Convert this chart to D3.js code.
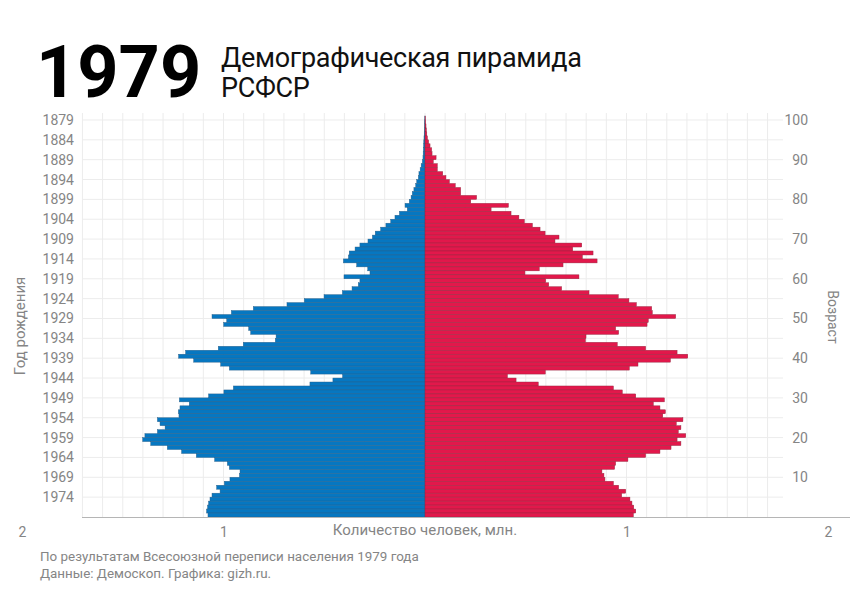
<!DOCTYPE html>
<html>
<head>
<meta charset="utf-8">
<script src="https://cdn.jsdelivr.net/npm/d3@7/dist/d3.min.js"></script>
<style>
  body { margin: 0; background: #fff; }
  svg text { font-family: Roboto, "Noto Sans", sans-serif; }
</style>
</head>
<body>
<svg id="chart" width="850" height="597"></svg>
<script>
// ages from 100 (top) down to 0 (bottom), census of 1979
const ages = d3.range(100, -1, -1);

// men, millions, same order as ages
const male = [
  0.001, 0.002, 0.002, 0.003, 0.004, 0.005, 0.006, 0.007, 0.008, 0.009,
  0.010, 0.013, 0.019, 0.024, 0.030, 0.033, 0.041, 0.046, 0.055, 0.063,
  0.069, 0.078, 0.099, 0.088, 0.127, 0.149, 0.170, 0.194, 0.220, 0.247,
  0.261, 0.283, 0.323, 0.347, 0.376, 0.380, 0.405, 0.339, 0.284, 0.273,
  0.402, 0.323, 0.331, 0.362, 0.410, 0.501, 0.599, 0.685, 0.852, 0.961,
  1.057, 0.984, 0.999, 0.875, 0.865, 0.739, 0.743, 0.902, 1.026, 1.188,
  1.223, 1.148, 1.014, 0.971, 0.567, 0.409, 0.457, 0.571, 0.951, 0.998,
  1.074, 1.219, 1.170, 1.216, 1.224, 1.221, 1.328, 1.315, 1.290, 1.328,
  1.390, 1.401, 1.361, 1.279, 1.208, 1.135, 1.044, 0.981, 0.971, 0.918,
  0.921, 0.968, 0.996, 1.034, 1.017, 1.057, 1.067, 1.074, 1.079, 1.084,
  1.077
];

// women, millions
const female = [
  0.002, 0.003, 0.005, 0.007, 0.009, 0.012, 0.018, 0.025, 0.033, 0.035,
  0.055, 0.041, 0.061, 0.061, 0.088, 0.104, 0.121, 0.150, 0.177, 0.177,
  0.256, 0.227, 0.414, 0.328, 0.427, 0.466, 0.493, 0.533, 0.571, 0.596,
  0.665, 0.645, 0.778, 0.733, 0.834, 0.781, 0.854, 0.685, 0.567, 0.496,
  0.764, 0.599, 0.614, 0.678, 0.814, 0.959, 1.012, 1.049, 1.125, 1.128,
  1.244, 1.108, 1.102, 0.946, 0.961, 0.799, 0.796, 0.954, 1.095, 1.251,
  1.304, 1.218, 1.057, 1.014, 0.597, 0.409, 0.452, 0.562, 0.935, 0.979,
  1.046, 1.188, 1.133, 1.166, 1.193, 1.180, 1.280, 1.247, 1.270, 1.257,
  1.294, 1.251, 1.270, 1.221, 1.166, 1.095, 1.007, 0.946, 0.941, 0.878,
  0.888, 0.893, 0.935, 0.961, 0.996, 0.976, 1.017, 1.027, 1.036, 1.046,
  1.034
];

const yearTicks = [1879, 1884, 1889, 1894, 1899, 1904, 1909, 1914, 1919, 1924,
  1929, 1934, 1939, 1944, 1949, 1954, 1959, 1964, 1969, 1974];
const ageTicks = [100, 90, 80, 70, 60, 50, 40, 30, 20, 10];
const valueTicks = [-2, -1, 1, 2];
const censusYear = 1979;

const svg = d3.select("#chart");
const grey = "#858585";

const x = d3.scaleLinear().domain([-2, 2]).range([22, 828]);
const y = d3.scaleLinear().domain([101, 0]).range([116, 517]);

// grid
const grid = svg.append("g").attr("class", "grid");
grid.selectAll(".vline")
  .data(d3.range(-17, 18).map(d => d / 10))
  .enter()
  .append("line")
  .attr("x1", d => x(d)).attr("x2", d => x(d))
  .attr("y1", 113).attr("y2", y(0))
  .style("stroke", "#ececec")
  .style("stroke-width", 1);

grid.selectAll(".hline")
  .data(yearTicks)
  .enter()
  .append("line")
  .attr("x1", 83).attr("x2", 783)
  .attr("y1", d => y(censusYear - d)).attr("y2", d => y(censusYear - d))
  .style("stroke", "#ececec")
  .style("stroke-width", 1);

// bars
const rows = ages.map((a, i) => ({ age: a, m: male[i], f: female[i] }));
const bh = y(0) - y(1);

svg.append("g").selectAll("rect")
  .data(rows)
  .enter()
  .append("rect")
  .attr("x", d => x(-d.m))
  .attr("y", d => y(d.age + 1))
  .attr("width", d => x(0) - x(-d.m))
  .attr("height", bh)
  .style("fill", "#0677c1")
  .style("stroke", "#2b5f88")
  .style("stroke-width", 0.45);

svg.append("g").selectAll("rect")
  .data(rows)
  .enter()
  .append("rect")
  .attr("x", x(0))
  .attr("y", d => y(d.age + 1))
  .attr("width", d => x(d.f) - x(0))
  .attr("height", bh)
  .style("fill", "#e2184b")
  .style("stroke", "#93283f")
  .style("stroke-width", 0.45);

// bottom axis line
svg.append("line")
  .attr("x1", 82).attr("x2", 850)
  .attr("y1", y(0) + 0.5).attr("y2", y(0) + 0.5)
  .style("stroke", "#b5b5b5")
  .style("stroke-width", 1.2);

// left axis: years of birth
const left = svg.append("g")
  .attr("transform", "translate(74,0)")
  .call(d3.axisLeft(y)
    .tickValues(yearTicks.map(d => censusYear - d))
    .tickFormat(d => censusYear - d)
    .tickSize(0)
    .tickPadding(0));

// right axis: age
const right = svg.append("g")
  .attr("transform", "translate(808,0)")
  .call(d3.axisLeft(y)
    .tickValues(ageTicks)
    .tickSize(0)
    .tickPadding(0));

// bottom axis: millions
const bottom = svg.append("g")
  .attr("transform", "translate(0," + (y(0) + 7) + ")")
  .call(d3.axisBottom(x)
    .tickValues(valueTicks)
    .tickFormat(d => Math.abs(d))
    .tickSize(0));

[left, right, bottom].forEach(g => {
  g.select(".domain").remove();
  g.selectAll("text")
    .style("font-family", "Roboto, sans-serif")
    .style("font-size", "14px")
    .style("fill", grey);
});

svg.append("text")
  .attr("x", x(0)).attr("y", 535)
  .attr("text-anchor", "middle")
  .style("font-size", "15px")
  .style("fill", grey)
  .text("Количество человек, млн.");

svg.append("text")
  .attr("transform", "translate(25,326) rotate(-90)")
  .attr("text-anchor", "middle")
  .style("font-size", "15px")
  .style("fill", grey)
  .text("Год рождения");

svg.append("text")
  .attr("transform", "translate(828,317) rotate(90)")
  .attr("text-anchor", "middle")
  .style("font-size", "14px")
  .style("fill", grey)
  .text("Возраст");

// title
svg.append("text")
  .attr("x", 36).attr("y", 97)
  .style("font-size", "72px")
  .style("font-weight", "bold")
  .style("fill", "#000")
  .text("1979");

svg.append("text")
  .attr("x", 221).attr("y", 67)
  .style("font-size", "27px")
  .style("letter-spacing", "-0.3px")
  .style("fill", "#111")
  .text("Демографическая пирамида");

svg.append("text")
  .attr("x", 221).attr("y", 97)
  .style("font-size", "27px")
  .style("letter-spacing", "-0.3px")
  .style("fill", "#111")
  .text("РСФСР");

// footer
svg.append("text")
  .attr("x", 40).attr("y", 561)
  .style("font-size", "13.4px")
  .style("fill", grey)
  .text("По результатам Всесоюзной переписи населения 1979 года");

svg.append("text")
  .attr("x", 40).attr("y", 578)
  .style("font-size", "13.4px")
  .style("fill", grey)
  .text("Данные: Демоскоп. Графика: gizh.ru.");
</script>
</body>
</html>
